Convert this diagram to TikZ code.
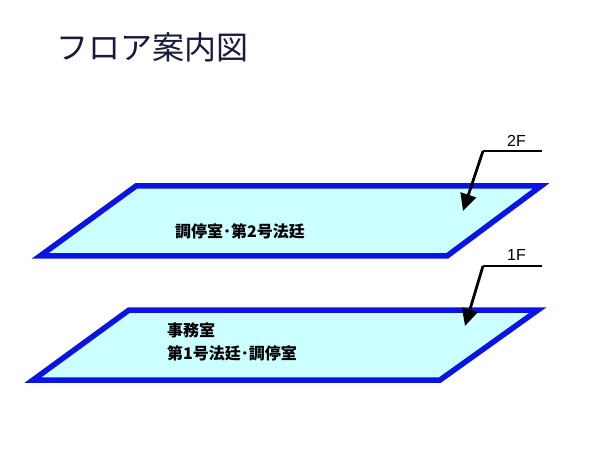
\documentclass[tikz,border=0pt]{standalone}
\usepackage{fontspec}
\newfontfamily\jp{Noto Sans CJK JP}
\newfontfamily\lab{Liberation Sans}
\usetikzlibrary{arrows.meta}
\definecolor{floorfill}{HTML}{CCFFFF}
\definecolor{floorline}{HTML}{0A14E6}
\definecolor{titlecol}{HTML}{1A1A3C}
\tikzset{
  floorplate/.style={draw=floorline, fill=floorfill, line width=5.5pt, line join=miter},
  leader/.style={draw=black, line width=2pt},
  pointer/.style={draw=black, line width=2.8pt, -{Triangle[length=17pt,width=16pt]}},
  floorlabel/.style={font=\lab\fontsize{16}{18}\selectfont, inner sep=0pt, anchor=west},
  roomtext/.style={font=\jp\bfseries\fontsize{16}{23}\selectfont, inner sep=0pt, anchor=west, align=left},
}
\begin{document}
\begin{tikzpicture}[x=1pt,y=-1pt]
\useasboundingbox (0,0) rectangle (600,465);
\fill[white] (0,0) rectangle (600,465);
% title
\node[font=\jp\fontsize{32}{36}\selectfont, text=titlecol, inner sep=0pt, anchor=west] (title) at (56,47) {フロア案内図};
% 2F plate
\draw[floorplate] (136,186) -- (541,186) -- (447,256) -- (40,256) -- cycle;
\node[roomtext] (room2) at (175,231) {調停室･第2号法廷};
% 1F plate
\draw[floorplate] (129,310) -- (538,310) -- (440,380) -- (33,380) -- cycle;
\node[roomtext] (room1) at (167,342) {事務室\\第1号法廷･調停室};
% labels
\node[floorlabel] (lab2) at (507,141) {2F};
\coordinate (k2) at (483,151);
\coordinate (e2) at (542,151);
\coordinate (t2) at (463,211);
\draw[leader] (k2) -- (e2);
\draw[pointer] (k2) -- (t2);
\node[floorlabel] (lab1) at (507,255) {1F};
\coordinate (k1) at (483,266);
\coordinate (e1) at (542,266);
\coordinate (t1) at (465,326);
\draw[leader] (k1) -- (e1);
\draw[pointer] (k1) -- (t1);
\end{tikzpicture}
\end{document}
